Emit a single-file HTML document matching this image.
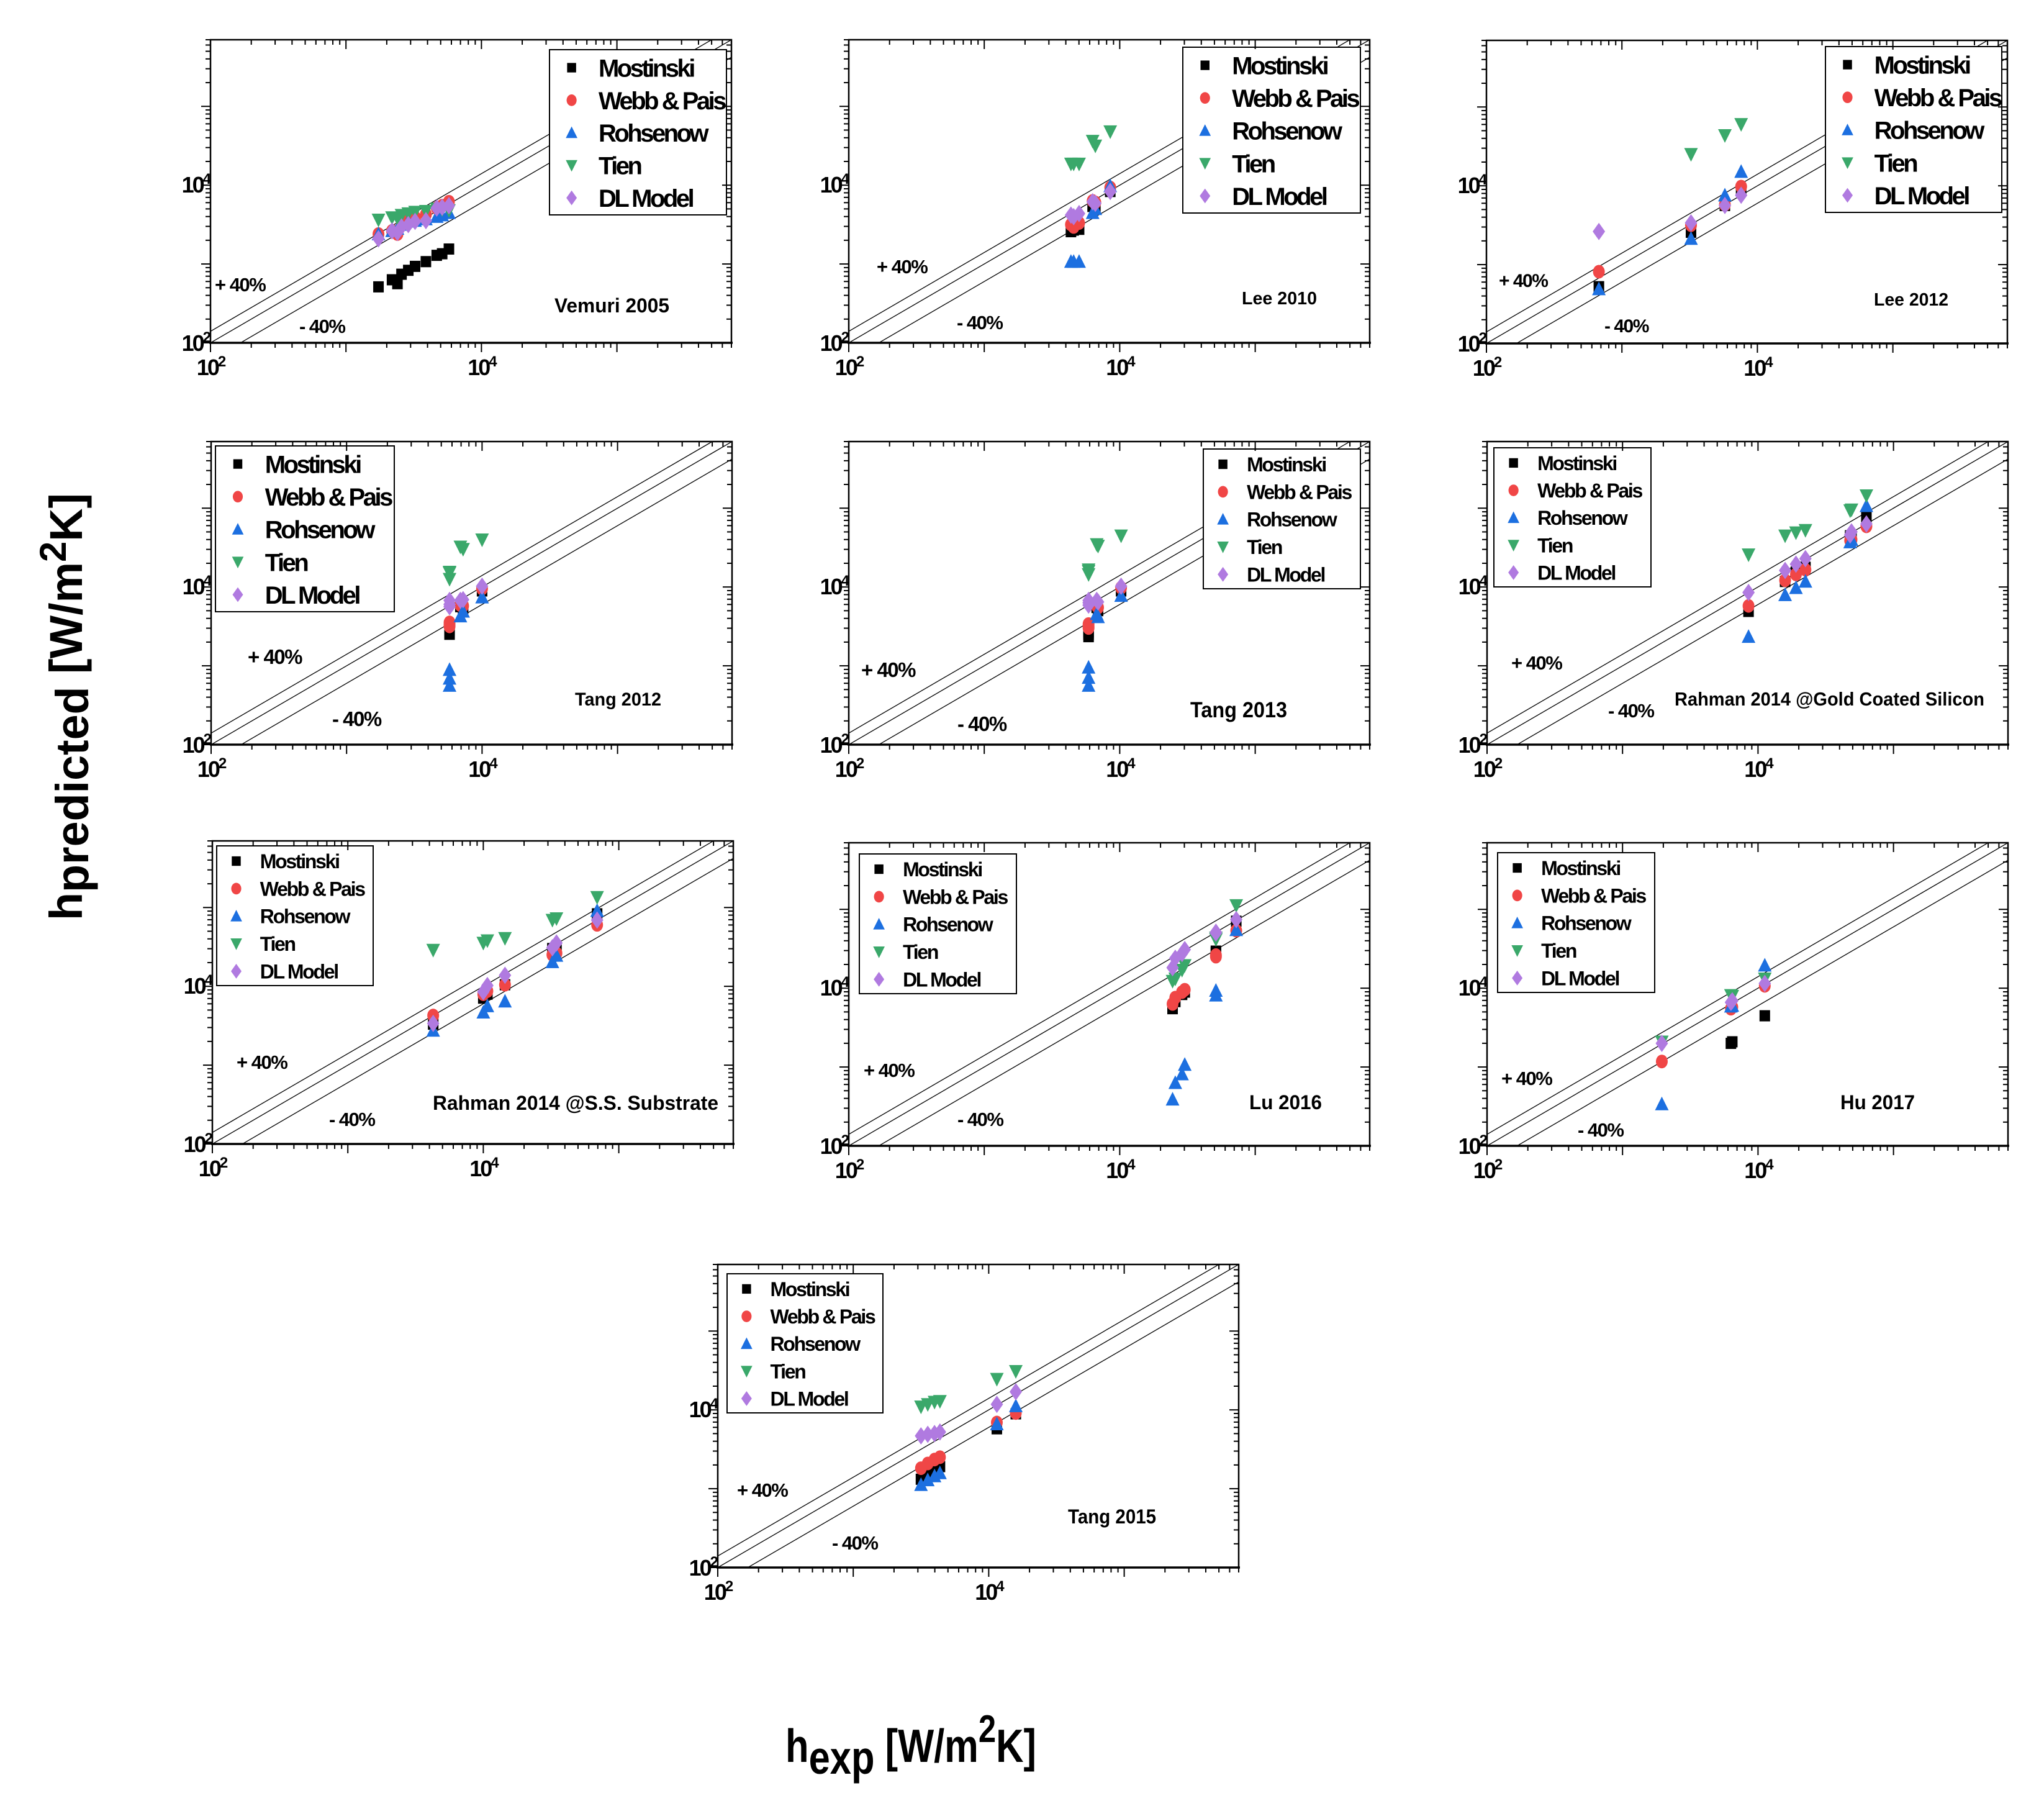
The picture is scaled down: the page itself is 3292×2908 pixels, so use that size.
<!DOCTYPE html>
<html>
<head>
<meta charset="utf-8">
<style>
html,body{margin:0;padding:0;background:#fff;}
svg{display:block;}
text{font-family:"Liberation Sans",Arial,sans-serif;font-weight:bold;fill:#000;}
</style>
</head>
<body>
<svg id="fig" xmlns="http://www.w3.org/2000/svg" width="3292" height="2908" viewBox="0 0 3292 2908">
<rect x="0" y="0" width="3292" height="2908" fill="#fff"/>
<text transform="translate(132,1138) rotate(-90)" text-anchor="middle" font-size="74" textLength="688" lengthAdjust="spacingAndGlyphs">h<tspan dy="10">predicted</tspan><tspan dy="-10"> [W/m</tspan><tspan dy="-26" font-size="60">2</tspan><tspan dy="26">K]</tspan></text>
<text x="1265" y="2837" font-size="75" textLength="404" lengthAdjust="spacingAndGlyphs">h<tspan dy="19">exp</tspan><tspan dy="-19"> [W/m</tspan><tspan dy="-32" font-size="62">2</tspan><tspan dy="32">K]</tspan></text>
</svg>
<script>
// All values are log10(h) in W/m2K.
const seriesNames = ["Mostinski","Webb & Pais","Rohsenow","Tien","DL Model"];
const tickDecades = [2,3,4,5];
const tickLabelExps = ["2","4"];

const vemuriX    = [3.24,3.34,3.38,3.41,3.46,3.51,3.59,3.67,3.71,3.76];
const vemuriMost = [2.71,2.80,2.75,2.87,2.92,2.97,3.03,3.11,3.13,3.19];
const vemuriWebb = [3.38,3.42,3.38,3.50,3.56,3.59,3.63,3.71,3.74,3.79];
const vemuriRoh  = [3.38,3.42,3.45,3.50,3.54,3.55,3.57,3.60,3.62,3.65];
const vemuriTien = [3.56,3.59,3.58,3.62,3.64,3.66,3.67,3.70,3.69,3.68];
const vemuriDL   = [3.32,3.42,3.40,3.47,3.50,3.54,3.55,3.71,3.72,3.74];

const lee10X    = [3.64,3.66,3.70,3.80,3.82,3.93];
const lee10Most = [3.41,3.43,3.44,3.73,3.70,3.92];
const lee10Webb = [3.50,3.47,3.52,3.80,3.78,3.97];
const lee10Roh  = [3.03,3.03,3.03,3.65,3.70,3.99];
const lee10Tien = [4.27,4.27,4.27,4.56,4.50,4.68];
const lee10DL   = [3.62,3.60,3.64,3.79,3.77,3.92];

const lee12X    = [2.83,3.51,3.76,3.88];
const lee12Most = [2.72,3.41,3.75,3.94];
const lee12Webb = [2.91,3.50,3.76,3.99];
const lee12Roh  = [2.69,3.33,3.88,4.18];
const lee12Tien = [null,4.40,4.64,4.78];
const lee12DL   = [3.42,3.53,3.75,3.88];

const tang12X    = [3.76,3.76,3.76,3.84,3.86,4.00];
const tang12Most = [3.40,3.46,3.43,3.75,3.73,3.95];
const tang12Webb = [3.52,3.55,3.50,3.77,3.76,3.98];
const tang12Roh  = [2.75,2.84,2.95,3.63,3.69,3.87];
const tang12Tien = [4.10,4.18,4.19,4.51,4.48,4.60];
const tang12DL   = [3.78,3.83,3.75,3.83,3.84,4.01];

const tang13X    = [3.77,3.77,3.77,3.83,3.84,4.01];
const tang13Most = [3.37,3.43,3.40,3.74,3.70,3.95];
const tang13Webb = [3.50,3.53,3.48,3.76,3.74,3.99];
const tang13Roh  = [2.75,2.85,2.98,3.66,3.62,3.89];
const tang13Tien = [4.16,4.22,4.20,4.54,4.52,4.65];
const tang13DL   = [3.77,3.83,3.80,3.83,3.81,4.01];

const goldX    = [3.93,4.20,4.28,4.35,4.68,4.69,4.80];
const goldMost = [3.69,4.07,4.19,4.25,4.65,4.62,4.89];
const goldWebb = [3.76,4.085,4.16,4.22,4.59,4.60,4.77];
const goldRoh  = [3.37,3.90,3.99,4.07,4.57,4.60,5.03];
const goldTien = [4.41,4.65,4.69,4.72,4.97,4.98,5.16];
const goldDL   = [3.93,4.21,4.29,4.36,4.66,4.70,4.80];

const ssX    = [3.63,4.00,4.03,4.16,4.51,4.54,4.84];
const ssMost = [3.52,3.85,3.90,4.02,4.48,4.46,4.92];
const ssWebb = [3.63,3.90,3.94,4.02,4.40,4.42,4.78];
const ssRoh  = [3.44,3.67,3.75,3.81,4.31,4.39,4.96];
const ssTien = [4.46,4.55,4.58,4.61,4.84,4.86,5.13];
const ssDL   = [3.53,3.93,4.01,4.14,4.49,4.55,4.84];

const luX    = [4.39,4.41,4.46,4.48,4.71,4.71,4.86];
const luMost = [3.74,3.83,3.92,3.95,4.47,4.45,4.85];
const luWebb = [3.80,3.88,3.95,3.98,4.40,4.42,4.73];
const luRoh  = [2.59,2.80,2.91,3.03,3.91,3.97,4.74];
const luTien = [4.09,4.12,4.23,4.29,4.64,4.62,5.05];
const luDL   = [4.26,4.38,4.44,4.49,4.71,4.70,4.87];

const huX    = [3.29,3.80,3.81,4.05];
const huMost = [null,3.30,3.32,3.65];
const huWebb = [3.07,3.74,3.76,4.03];
const huRoh  = [2.53,3.77,3.78,4.29];
const huTien = [3.32,3.91,3.90,4.12];
const huDL   = [3.30,3.82,3.84,4.06];

const tang15X    = [3.50,3.55,3.60,3.64,4.06,4.20];
const tang15Most = [3.12,3.20,3.23,3.28,3.76,3.95];
const tang15Webb = [3.26,3.32,3.37,3.40,3.84,3.96];
const tang15Roh  = [3.05,3.11,3.16,3.20,3.82,4.05];
const tang15Tien = [4.04,4.07,4.10,4.11,4.39,4.49];
const tang15DL   = [3.67,3.69,3.70,3.72,4.07,4.23];

const panelTitles = ["Vemuri 2005","Lee 2010","Lee 2012","Tang 2012","Tang 2013","Rahman 2014 @Gold Coated Silicon","Rahman 2014 @S.S. Substrate","Lu 2016","Hu 2017","Tang 2015"];

const NS = "http://www.w3.org/2000/svg";
const svg = document.getElementById("fig");
const LMIN = 2, LMAX = Math.log10(7e5), PW = 839, PH = 488;
const COLORS = ["#000000","#f04646","#1c6fe0","#3aa86a","#b07ae0"];

function mk(tag, attrs, parent){
  const e = document.createElementNS(NS, tag);
  for (const k in attrs) e.setAttribute(k, attrs[k]);
  (parent||svg).appendChild(e);
  return e;
}
function marker(kind, cx, cy, parent, s){
  s = s || 1;
  let e;
  if (kind===0) e = mk("rect",{x:cx-8.5*s,y:cy-9*s,width:17*s,height:18*s,fill:COLORS[0]},parent);
  else if (kind===1) e = mk("ellipse",{cx:cx,cy:cy,rx:9.5*s,ry:11*s,fill:COLORS[1]},parent);
  else if (kind===2) e = mk("polygon",{points:`${cx},${cy-12*s} ${cx+11*s},${cy+10*s} ${cx-11*s},${cy+10*s}`,fill:COLORS[2]},parent);
  else if (kind===3) e = mk("polygon",{points:`${cx-11*s},${cy-10*s} ${cx+11*s},${cy-10*s} ${cx},${cy+12*s}`,fill:COLORS[3]},parent);
  else e = mk("polygon",{points:`${cx},${cy-14*s} ${cx+10*s},${cy} ${cx},${cy+14*s} ${cx-10*s},${cy}`,fill:COLORS[4]},parent);
  return e;
}

const panels = [
 {id:"vemuri-2005",L:339,T:64,x:vemuriX,s:[vemuriMost,vemuriWebb,vemuriRoh,vemuriTien,vemuriDL],
  leg:[885,80,285,266],lf:40,ls:-3.5,p:[7,405],m:[143,472],lab:[554,439,185,32],af:31},
 {id:"lee-2010",L:1367,T:64,x:lee10X,s:[lee10Most,lee10Webb,lee10Roh,lee10Tien,lee10DL],
  leg:[1905,76,286,267],lf:40,ls:-3.5,p:[45,376],m:[174,466],lab:[633,426,121,29],af:31},
 {id:"lee-2012",L:2394,T:65,x:lee12X,s:[lee12Most,lee12Webb,lee12Roh,lee12Tien,lee12DL],
  leg:[2940,75,284,267],lf:40,ls:-3.5,p:[20,397],m:[190,470],lab:[624,427,120,29],af:30},
 {id:"tang-2012",L:340,T:711,x:tang12X,s:[tang12Most,tang12Webb,tang12Roh,tang12Tien,tang12DL],
  leg:[347,718,288,267],lf:40,ls:-3.5,p:[59,358],m:[195,458],lab:[586,425,139,30],af:33},
 {id:"tang-2013",L:1367,T:711,x:tang13X,s:[tang13Most,tang13Webb,tang13Roh,tang13Tien,tang13DL],
  leg:[1938,723,253,225],lf:32,ls:-2.3,p:[20,379],m:[175,466],lab:[550,444,156,35],af:33},
 {id:"rahman-2014-gold",L:2395,T:711,x:goldX,s:[goldMost,goldWebb,goldRoh,goldTien,goldDL],
  leg:[2406,721,253,224],lf:32,ls:-2.3,p:[39,367],m:[195,444],lab:[302,425,499,31],af:31},
 {id:"rahman-2014-ss",L:342,T:1354,x:ssX,s:[ssMost,ssWebb,ssRoh,ssTien,ssDL],
  leg:[349,1362,252,225],lf:32,ls:-2.3,p:[39,367],m:[188,459],lab:[355,433,460,32],af:31},
 {id:"lu-2016",L:1367,T:1357,x:luX,s:[luMost,luWebb,luRoh,luTien,luDL],
  leg:[1384,1375,253,225],lf:32,ls:-2.3,p:[24,377],m:[175,456],lab:[645,429,117,32],af:31},
 {id:"hu-2017",L:2395,T:1357,x:huX,s:[huMost,huWebb,huRoh,huTien,huDL],
  leg:[2412,1373,253,225],lf:32,ls:-2.3,p:[23,390],m:[146,473],lab:[569,429,120,32],af:31},
 {id:"tang-2015",L:1156,T:2036,x:tang15X,s:[tang15Most,tang15Webb,tang15Roh,tang15Tien,tang15DL],
  leg:[1171,2051,251,224],lf:32,ls:-2.3,p:[31,374],m:[184,459],lab:[564,417,142,32],af:31}
];

panels.forEach(function(P, pi){
  const L=P.L, T=P.T, R=L+PW, B=T+PH;
  const xs = v => L + (v-LMIN)/(LMAX-LMIN)*PW;
  const ys = v => B - (v-LMIN)/(LMAX-LMIN)*PH;
  const g = mk("g",{});
  
  
  const cid = "clip"+pi;
  const cp = mk("clipPath",{id:cid},g);
  mk("rect",{x:L,y:T,width:PW,height:PH},cp);

  const lg = mk("g",{"clip-path":`url(#${cid})`,stroke:"#000","stroke-width":1.3},g);
  
  
  [1.4,1,0.6].forEach(function(f){
    const o = Math.log10(f);
    const ln = mk("line",{x1:xs(LMIN-1),y1:ys(LMIN-1+o),x2:xs(LMAX+1),y2:ys(LMAX+1+o)},lg);
    
    
  });

  P.s.forEach(function(arr, k){
    const sg = mk("g",{"clip-path":`url(#${cid})`},g);
    
    
    arr.forEach(function(v, i){
      if (v===null || P.x[i]===null) return;
      const m = marker(k, xs(P.x[i]), ys(v), sg, 1);
      
      
    });
  });

  const [lx,ly,lw,lh] = P.leg;
  const leg = mk("g",{},g);
  
  
  mk("rect",{x:lx,y:ly,width:lw,height:lh,fill:"#fff",stroke:"#000","stroke-width":2},leg);
  seriesNames.forEach(function(n, k){
    const cy = ly + lh*(0.109 + k*0.197);
    const eg = mk("g",{},leg);
    
    
    marker(k, lx + lw*0.125, cy, eg, 0.85);
    const t = mk("text",{x:lx + lw*0.277, y:cy + P.lf*0.36, "font-size":P.lf, "letter-spacing":P.ls},eg);
    t.textContent = n;
  });

  const fr = mk("rect",{x:L,y:T,width:PW,height:PH,fill:"none",stroke:"#000","stroke-width":2.5},g);
  
  
  mk("line",{x1:L-2,y1:B,x2:R+2,y2:B,stroke:"#000","stroke-width":3.5},g);

  const tk = mk("g",{stroke:"#000","stroke-width":2},g);
  
  
  tickDecades.forEach(function(d){
    for (let m=1; m<=9; m++){
      const v = d + Math.log10(m);
      if (v > LMAX + 1e-6) break;
      const len = m===1 ? 15 : 8;
      const X = xs(v), Y = ys(v);
      mk("line",{x1:X,y1:B,x2:X,y2:B+len},tk);
      mk("line",{x1:X,y1:T,x2:X,y2:T+len},tk);
      mk("line",{x1:L,y1:Y,x2:L-len,y2:Y},tk);
      mk("line",{x1:R,y1:Y,x2:R-len,y2:Y},tk);
    }
  });

  tickLabelExps.forEach(function(e){
    const v = parseFloat(e);
    const tx = mk("text",{x:xs(v), y:B+52, "text-anchor":"middle","font-size":36,"letter-spacing":-3},g);
    
    
    tx.innerHTML = '10<tspan dy="-14" font-size="24">'+e+'</tspan>';
    const ty = mk("text",{x:L-2, y:(v===LMIN? B+13 : ys(v)+12), "text-anchor":"end","font-size":36,"letter-spacing":-3},g);
    
    
    ty.innerHTML = '10<tspan dy="-14" font-size="24">'+e+'</tspan>';
  });

  const ap = mk("text",{x:L+P.p[0], y:T+P.p[1], "font-size":P.af, "letter-spacing":-1.5},g);
  
  
  ap.textContent = "+ 40%";
  const am = mk("text",{x:L+P.m[0], y:T+P.m[1], "font-size":P.af, "letter-spacing":-1.5},g);
  
  
  am.textContent = "- 40%";
  const lb = mk("text",{x:L+P.lab[0], y:T+P.lab[1], "font-size":P.lab[3], textLength:P.lab[2], lengthAdjust:"spacingAndGlyphs"},g);
  
  
  lb.textContent = panelTitles[pi];
});
</script>
</body>
</html>
